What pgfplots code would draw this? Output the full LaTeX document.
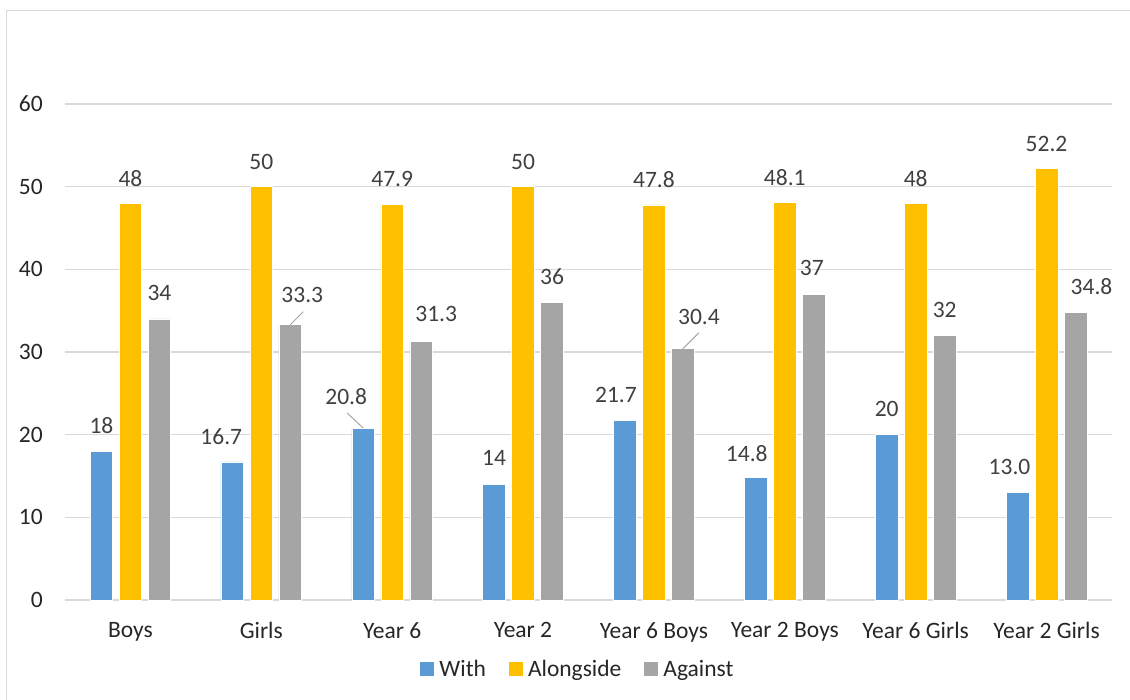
\documentclass[border=0pt]{standalone}
\usepackage{pgfplots}
\pgfplotsset{compat=1.18}
\usepackage{pgfplotstable}
\usepackage{fontspec}
\setmainfont{Carlito}
\definecolor{cwith}{HTML}{5B9BD5}
\definecolor{calong}{HTML}{FFC000}
\definecolor{cagainst}{HTML}{A5A5A5}
\definecolor{gridc}{HTML}{D9D9D9}
\definecolor{lbl}{HTML}{404040}
\definecolor{txt}{HTML}{262626}
\definecolor{leader}{HTML}{A6A6A6}

\pgfplotstableread{
x y label dx dy
0 18 18 0 26
1 16.7 16.7 -11 25
2 20.8 20.8 -17 31
3 14 14 0 26
4 21.7 21.7 -9 26
5 14.8 14.8 -9 24
6 20 20 0 26
7 13.0 13.0 -8 26
}\withdata

\pgfplotstableread{
x y label dx dy
0 48 48 0 25
1 50 50 0 25
2 47.9 47.9 0 25
3 50 50 0 25
4 47.8 47.8 0 25
5 48.1 48.1 0 25
6 48 48 0 25
7 52.2 52.2 0 25
}\alongdata

\pgfplotstableread{
x y label dx dy
0 34 34 0 26
1 33.3 33.3 12 30
2 31.3 31.3 15 27
3 36 36 0 26
4 30.4 30.4 16 32
5 37 37 -2 26
6 32 32 0 26
7 34.8 34.8 16 26
}\againstdata

\begin{document}
\begin{tikzpicture}[font=\fontsize{23.5bp}{28bp}\selectfont]
\useasboundingbox (-65bp,-100bp) rectangle (1065bp,600bp);
\draw[gridc, line width=1bp] (-58bp,-100bp) -- (-58bp,589bp) -- (1065bp,589bp);
\begin{axis}[
  at={(0,0)}, anchor=south west,
  scale only axis, width=1047bp, height=496bp,
  xmin=-0.5, xmax=7.5, ymin=0, ymax=60,
  ytick={0,10,...,60},
  xtick={0,...,7},
  xticklabels={Boys,Girls,Year 6,Year 2,Year 6 Boys,Year 2 Boys,Year 6 Girls,Year 2 Girls},
  ymajorgrids, grid style={gridc, line width=1.2bp},
  axis line style={draw=none}, major tick length=0pt,
  tick label style={text=txt},
  /pgf/number format/assume math mode=true,
  yticklabel style={inner sep=0pt, xshift=-22bp},
  xticklabel style={inner sep=0pt, yshift=-22bp},
  ybar=6.3bp, bar width=22.7bp,
  clip=false,
  point meta=explicit symbolic,
  nodes near coords,
  visualization depends on={\thisrow{dx}\as\ldx},
  visualization depends on={\thisrow{dy}\as\ldy},
  every node near coord/.append style={anchor=center, xshift=\ldx bp, yshift=\ldy bp, text=lbl, inner sep=0pt},
  legend columns=3,
  legend style={at={(0.489,-0.139)}, anchor=center, draw=none, fill=none, text=txt,
    nodes={inner sep=0pt},
    /tikz/every odd column/.append style={column sep=5bp},
    /tikz/every even column/.append style={column sep=23bp}},
  every axis plot post/.append style={/pgfplots/legend image code/.code={\fill[##1,draw=none] (0bp,-7bp) rectangle (14bp,7bp);}},
]
\addplot[fill=cwith, draw=white, line width=0.6bp] table[x=x, y=y, meta=label] {\withdata};
\addplot[fill=calong, draw=white, line width=0.6bp] table[x=x, y=y, meta=label] {\alongdata};
\addplot[fill=cagainst, draw=white, line width=0.6bp] table[x=x, y=y, meta=label] {\againstdata};
\legend{With, Alongside, Against}
\draw[leader, line width=1bp] ([xshift=29bp]axis cs:1,33.3) -- ++(13bp,13bp);
\draw[leader, line width=1bp] ([xshift=-29bp]axis cs:2,20.8) -- ++(-16bp,15bp);
\draw[leader, line width=1bp] ([xshift=29bp]axis cs:4,30.4) -- ++(16bp,16bp);
\end{axis}
\end{tikzpicture}
\end{document}
